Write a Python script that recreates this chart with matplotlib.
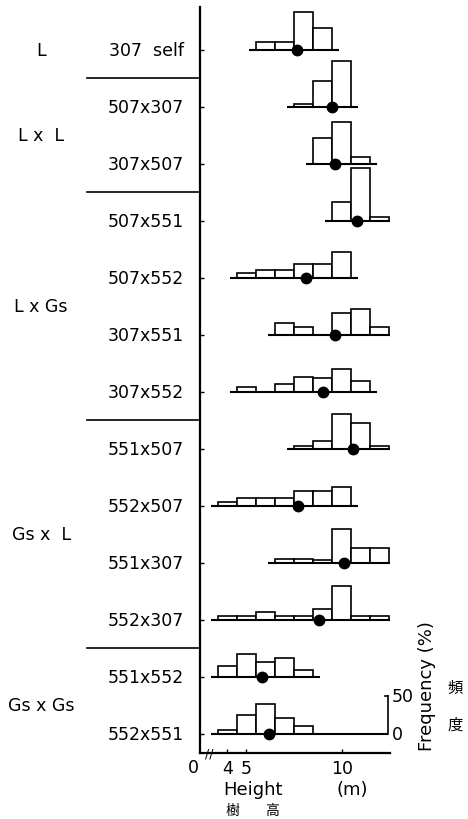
import matplotlib
matplotlib.use("Agg")
import matplotlib.pyplot as plt
from matplotlib.transforms import blended_transform_factory

plt.rcParams['font.family'] = ['DejaVu Sans', 'Noto Sans CJK JP']

# crosses, top to bottom
crosses = ["307  self", "507x307", "307x507", "507x551", "507x552", "307x551",
           "307x552", "551x507", "552x507", "551x307", "552x307", "551x552",
           "552x551"]
# first 1-m height class (centre, m) of each histogram
bin_start = [6, 8, 9, 10, 5, 7, 5, 8, 4, 7, 4, 4, 4]
# frequency (%) per 1-m class
freqs = [
    [10, 10, 51, 29],
    [4, 35, 61],
    [35, 56, 9],
    [25, 70, 5],
    [6, 11, 11, 19, 19, 34],
    [16, 10, 0, 29, 35, 10],
    [6, 0, 11, 20, 19, 30, 14],
    [4, 11, 46, 35, 4],
    [5, 10, 10, 10, 20, 20, 25],
    [5, 5, 4, 45, 20, 20],
    [5, 5, 10, 5, 5, 15, 45, 5, 5],
    [15, 31, 20, 25, 9],
    [5, 25, 40, 21, 10],
]
# mean height (m), black dots
means = [7.66, 9.52, 9.64, 10.8, 8.11, 9.66, 9.04, 10.58, 7.7, 10.13, 8.8, 5.81, 6.19]

groups = ["L", "L x  L", "L x Gs", "Gs x  L", "Gs x Gs"]
group_rows = [[0], [1, 2], [3, 4, 5, 6], [7, 8, 9, 10], [11, 12]]

ROW_STEP = 75.6  # vertical offset between histograms, in % units
n = len(crosses)
bases = [(n - 1 - i) * ROW_STEP for i in range(n)]

W, H = 468, 820
fig = plt.figure(figsize=(W / 100, H / 100), dpi=100)
ax = fig.add_axes([200 / W, 66 / H, 189.7 / W, 745.7 / H])
ax.set_xlim(2.572, 12.52)
ax.set_ylim(-25.2, 963.8)

def fx(px):
    return px / W

def fy(py):
    return 1 - py / H

FS = 12.5
lw = 1.2

for i in range(n):
    centers = [bin_start[i] + k for k in range(len(freqs[i]))]
    keep = [(c, f) for c, f in zip(centers, freqs[i]) if f > 0]
    ax.bar([c for c, f in keep], [f for c, f in keep], width=1.0, bottom=bases[i],
           facecolor='white', edgecolor='black', linewidth=lw, zorder=2)
    x0 = centers[0] - 0.5 - 0.35
    x1 = centers[-1] + 0.5 + 0.35
    if i == n - 1:
        x1 = 12.43
    ax.hlines(bases[i], x0, x1, color='black', linewidth=1.5, zorder=3)

ax.plot(means, bases, 'o', color='black', markersize=7.5, zorder=4)

# axes styling
for s in ['top', 'right']:
    ax.spines[s].set_visible(False)
for s in ['left', 'bottom']:
    ax.spines[s].set_linewidth(1.6)
ax.set_yticks(bases)
ax.set_yticklabels([])
ax.tick_params(axis='y', direction='in', length=3, width=1)
ax.set_xticks([4, 5, 10])
ax.set_xticklabels(['4', '5', '10'], fontsize=FS)
ax.tick_params(axis='x', direction='in', length=3, width=1, pad=4)

# "0" and the break on the height axis
fig.text(fx(193), fy(768), '0', ha='center', va='center', fontsize=FS)
ax.text(3.05, -25.2, '//', ha='center', va='center', fontsize=9,
        clip_on=False, zorder=5)

# scale bar for frequency
SCALE_X = 12.43
ax.plot([SCALE_X, SCALE_X], [0, 50], color='black', linewidth=1.2, clip_on=False)
ax.plot([SCALE_X - 0.15, SCALE_X], [50, 50], color='black', linewidth=1.2, clip_on=False)
ax.text(SCALE_X + 0.2, 50, '50', ha='left', va='center', fontsize=FS, clip_on=False)
ax.text(SCALE_X + 0.2, 0, '0', ha='left', va='center', fontsize=FS, clip_on=False)

fig.text(fx(427), fy(686), 'Frequency (%)', rotation=90, ha='center', va='center',
         fontsize=13)
fig.text(fx(455), fy(688), '頻', ha='center', va='center', fontsize=11,
         family='Noto Sans CJK JP')
fig.text(fx(455), fy(725), '度', ha='center', va='center', fontsize=11,
         family='Noto Sans CJK JP')

# axis title
fig.text(fx(253), fy(790), 'Height', ha='center', va='center', fontsize=13)
fig.text(fx(352), fy(790), '(m)', ha='center', va='center', fontsize=13)
fig.text(fx(232), fy(811), '樹', ha='center', va='center', fontsize=10,
         family='Noto Sans CJK JP')
fig.text(fx(272), fy(811), '高', ha='center', va='center', fontsize=10,
         family='Noto Sans CJK JP')

# row labels, group labels and separators
tr = blended_transform_factory(fig.transFigure, ax.transData)
for i, lab in enumerate(crosses):
    ax.text(fx(184), bases[i], lab, transform=tr, ha='right', va='center',
            fontsize=FS, clip_on=False)
for g, rows in zip(groups, group_rows):
    yc = (bases[rows[0]] + bases[rows[-1]]) / 2
    ax.text(fx(41), yc, g, transform=tr, ha='center', va='center',
            fontsize=FS, clip_on=False)
for rows in group_rows[:-1]:
    ysep = bases[rows[-1]] - ROW_STEP / 2
    ax.plot([fx(87), fx(198)], [ysep, ysep], transform=tr, color='black',
            linewidth=1.2, clip_on=False)

fig.savefig('out.png', dpi=100)
